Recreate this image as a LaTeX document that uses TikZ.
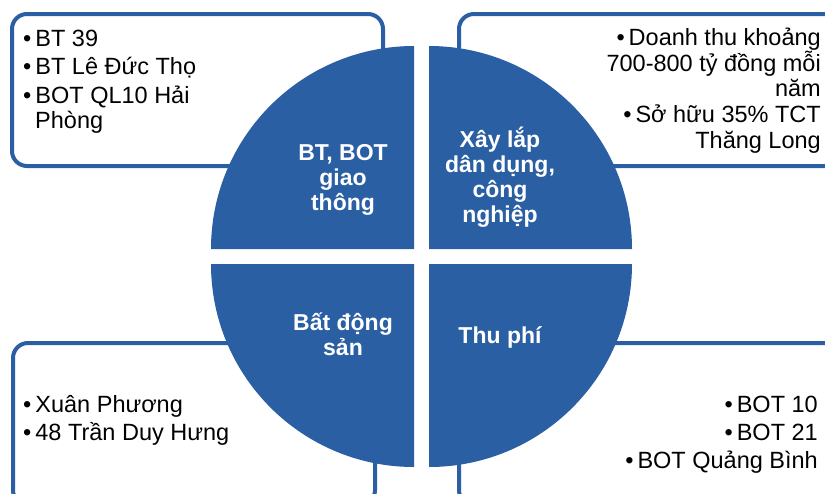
\documentclass[tikz,border=0pt]{standalone}
\usepackage{fontspec}
\setmainfont{Liberation Sans}
\usetikzlibrary{positioning}
\definecolor{pieblue}{RGB}{42,95,164}
\tikzset{
  infobox/.style={line width=4, color=pieblue, fill=white, rounded corners=15},
  quarter/.style={fill=pieblue},
  itemleft/.style={anchor=base west, inner sep=0, font=\fontsize{23.5}{28}\selectfont},
  itemright/.style={anchor=base east, inner sep=0, font=\fontsize{23.5}{28}\selectfont},
  sector/.style={anchor=base, inner sep=0, align=center, text=white,
    font=\fontsize{23}{25}\selectfont\bfseries}
}
\newcommand{\bul}{•\hspace{4pt}}
\begin{document}
\begin{tikzpicture}[x=1pt, y=-1pt]
\useasboundingbox (0,0) rectangle (825,493);
\clip (0,0) rectangle (825,493);
\draw[infobox](12,14) rectangle (383,166);
\draw[infobox](459,14) rectangle (845,166);
\draw[infobox](13,343) rectangle (375,505);
\draw[infobox](459,343) rectangle (845,505);
\fill[quarter](414,249) -- ++(-203,0) arc[start angle=180, end angle=270, radius=203] -- cycle;
\fill[quarter](429,249) -- ++(0,-203) arc[start angle=270, end angle=360, radius=203] -- cycle;
\fill[quarter](429,264) -- ++(203,0) arc[start angle=0, end angle=90, radius=203] -- cycle;
\fill[quarter](414,264) -- ++(0,203) arc[start angle=90, end angle=180, radius=203] -- cycle;
\node[sector] (bt) at (343,210) {BT, BOT\\giao\\thông};
\node[sector] (xaylap) at (500,222) {Xây lắp\\dân dụng,\\công\\nghiệp};
\node[sector] (bds) at (343,355) {Bất động\\sản};
\node[sector] (thuphi) at (500,343) {Thu phí};
\node[itemleft] (bt1) at (23,46) {\bul BT 39};
\node[itemleft] (bt2) at (23,74) {\bul BT Lê Đức Thọ};
\node[itemleft] (bt3) at (23,103) {\bul BOT QL10 Hải};
\node[itemleft] (bt3b) at (35,128) {Phòng};
\node[itemright] (xl1) at (821,45) {\bul Doanh thu khoảng};
\node[itemright] (xl1b) at (821,71) {700-800 tỷ đồng mỗi};
\node[itemright] (xl1c) at (821,96) {năm};
\node[itemright] (xl2) at (821,122) {\bul Sở hữu 35\% TCT};
\node[itemright] (xl2b) at (821,148) {Thăng Long};
\node[itemleft] (bds1) at (23,412) {\bul Xuân Phương};
\node[itemleft] (bds2) at (23,440) {\bul 48 Trần Duy Hưng};
\node[itemright] (tp1) at (818,412) {\bul BOT 10};
\node[itemright] (tp2) at (818,440) {\bul BOT 21};
\node[itemright] (tp3) at (818,468) {\bul BOT Quảng Bình};
\end{tikzpicture}
\end{document}
